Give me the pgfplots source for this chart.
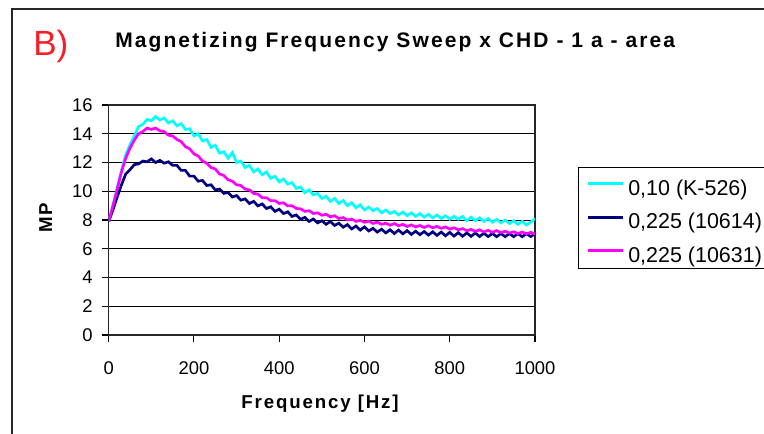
\documentclass[border=0pt]{standalone}
\usepackage{fontspec}
\setmainfont{Liberation Sans}
\usepackage{pgfplots}
\pgfplotsset{compat=1.18}
\definecolor{cyanL}{RGB}{0,255,255}
\definecolor{navyL}{RGB}{0,0,128}
\definecolor{magL}{RGB}{255,0,255}
\definecolor{redB}{RGB}{245,30,40}

\pgfplotstableread{
f v
0 7.9
10 9.0
20 10.25
30 11.45
40 12.55
50 13.25
60 13.85
70 14.5
80 14.65
90 15.0
100 14.9
110 15.2
120 14.95
130 15.1
140 14.75
150 14.9
160 14.55
170 14.7
180 14.3
190 14.35
200 13.85
210 14.0
220 13.5
230 13.6
240 13.05
250 13.2
260 12.65
270 12.75
280 12.3
290 12.7
300 12.0
310 12.1
320 11.65
330 11.8
340 11.35
350 11.55
360 11.15
370 11.35
380 10.9
390 11.05
400 10.65
410 10.85
420 10.5
430 10.6
440 10.2
450 10.3
460 9.9
470 10.1
480 9.75
490 9.85
500 9.5
510 9.65
520 9.3
530 9.5
540 9.15
550 9.35
560 9.0
570 9.2
580 8.85
590 9.05
600 8.7
610 8.9
620 8.65
630 8.8
640 8.5
650 8.7
660 8.45
670 8.6
680 8.35
690 8.55
700 8.3
710 8.5
720 8.25
730 8.45
740 8.2
750 8.4
760 8.15
770 8.35
780 8.1
790 8.3
800 8.05
810 8.25
820 8.05
830 8.25
840 7.95
850 8.2
860 7.95
870 8.15
880 7.9
890 8.1
900 7.85
910 8.05
920 7.8
930 8.0
940 7.75
950 7.95
960 7.7
970 7.9
980 7.65
990 7.85
1000 8.1
}\cyandata

\pgfplotstableread{
f v
0 7.9
10 8.7
20 9.6
30 10.45
40 11.2
50 11.5
60 11.85
70 11.9
80 12.1
90 12.05
100 12.25
110 12.0
120 12.15
130 11.95
140 12.05
150 11.8
160 11.8
170 11.45
180 11.45
190 11.05
200 11.05
210 10.7
220 10.75
230 10.4
240 10.45
250 10.1
260 10.15
270 9.85
280 9.92
290 9.6
300 9.7
310 9.38
320 9.47
330 9.15
340 9.3
350 8.98
360 9.12
370 8.8
380 8.92
390 8.6
400 8.75
410 8.45
420 8.57
430 8.25
440 8.35
450 8.05
460 8.18
470 7.9
480 8.07
490 7.8
500 7.95
510 7.7
520 7.9
530 7.62
540 7.78
550 7.5
560 7.68
570 7.38
580 7.58
590 7.3
600 7.52
610 7.24
620 7.42
630 7.16
640 7.36
650 7.1
660 7.32
670 7.06
680 7.3
690 7.04
700 7.26
710 7.0
720 7.22
730 6.98
740 7.2
750 6.95
760 7.18
770 6.93
780 7.16
790 6.9
800 7.14
810 6.88
820 7.12
830 6.87
840 7.1
850 6.86
860 7.1
870 6.85
880 7.08
890 6.85
900 7.06
910 6.84
920 7.06
930 6.84
940 7.05
950 6.84
960 7.05
970 6.84
980 7.05
990 6.85
1000 7.05
}\navydata

\pgfplotstableread{
f v
0 7.9
10 9.0
20 10.15
30 11.35
40 12.3
50 13.0
60 13.55
70 14.0
80 14.15
90 14.4
100 14.3
110 14.4
120 14.2
130 14.15
140 13.9
150 13.85
160 13.6
170 13.45
180 13.1
190 12.95
200 12.6
210 12.45
220 12.1
230 11.95
240 11.65
250 11.55
260 11.2
270 11.1
280 10.8
290 10.7
300 10.45
310 10.4
320 10.15
330 10.1
340 9.85
350 9.8
360 9.55
370 9.55
380 9.35
390 9.35
400 9.15
410 9.2
420 8.98
430 9.0
440 8.8
450 8.78
460 8.6
470 8.65
480 8.45
490 8.5
500 8.33
510 8.4
520 8.22
530 8.3
540 8.1
550 8.17
560 8.0
570 8.07
580 7.9
590 7.98
600 7.84
610 7.92
620 7.76
630 7.85
640 7.7
650 7.78
660 7.64
670 7.75
680 7.6
690 7.7
700 7.55
710 7.66
720 7.52
730 7.62
740 7.48
750 7.6
760 7.46
770 7.56
780 7.42
790 7.52
800 7.37
810 7.46
820 7.32
830 7.4
840 7.25
850 7.35
860 7.2
870 7.32
880 7.17
890 7.28
900 7.15
910 7.26
920 7.12
930 7.22
940 7.09
950 7.18
960 7.06
970 7.16
980 7.04
990 7.14
1000 7.02
}\magdata

\begin{document}
\begin{tikzpicture}[x=0.75pt,y=0.75pt]
\useasboundingbox (0,0) rectangle (764,433);
\fill[white] (0,0) rectangle (764,433);
\draw[line width=1.5pt, black!85] (12,-20) -- (12,424) -- (800,424);
\node[anchor=base west, text=redB, font=\fontsize{26.25pt}{30pt}\selectfont, inner sep=0pt] at (33,378) {B)};
\node[anchor=base west, font=\fontsize{15.75pt}{18pt}\selectfont\bfseries\addfontfeature{LetterSpace=10}, inner sep=0pt] at (115,385) {Magnetizing Frequency Sweep x CHD - 1 a - area};
\begin{axis}[
  at={(81.525pt,73.5pt)}, anchor=south west,
  scale only axis, width=319.725pt, height=172.5pt,
  xmin=0, xmax=1000, ymin=0, ymax=16,
  xtick={0,200,...,1000}, ytick={0,2,...,16},
  xtick pos=left, ytick pos=left,
  ymajorgrids, grid style={black, line width=0.6pt},
  axis line style={black!85, line width=1.1pt},
  tick align=outside, major tick length=5pt,
  tick style={black, line width=0.8pt},
  ticklabel style={font=\fontsize{13.8pt}{16pt}\selectfont},
  xticklabel style={yshift=-11.5pt},
  yticklabel style={xshift=-3.5pt},
  /pgf/number format/assume math mode=true,
  /pgf/number format/1000 sep={},
  xlabel={Frequency [Hz]}, ylabel={MP},
  label style={font=\fontsize{14pt}{16pt}\selectfont\bfseries\addfontfeature{LetterSpace=10}},
  xlabel style={at={(axis description cs:0.4957,-0.30)}, anchor=center},
  ylabel style={at={(axis description cs:-0.148,0.509)}, anchor=center, rotate=0},
  legend style={at={(axis description cs:1.1009,0.7304)}, anchor=north west,
    draw=black, line width=1pt, font=\fontsize{16.1pt}{18pt}\selectfont,
    inner xsep=6pt, inner ysep=3pt, row sep=5.6pt, column sep=3pt,
    nodes={inner sep=0pt, text height=17.7pt, text depth=1.8pt}},
  legend cell align=left,
  legend image code/.code={\draw[#1, line width=2.2pt] (0pt,0.8pt) -- (26pt,0.8pt);},
]
\addplot[cyanL, line width=2pt] table[x=f,y=v] {\cyandata};
\addlegendentry{0,10 (K-526)}
\addplot[navyL, line width=2pt] table[x=f,y=v] {\navydata};
\addlegendentry{0,225 (10614)}
\addplot[magL, line width=2pt] table[x=f,y=v] {\magdata};
\addlegendentry{0,225 (10631)}
\end{axis}
\end{tikzpicture}
\end{document}
